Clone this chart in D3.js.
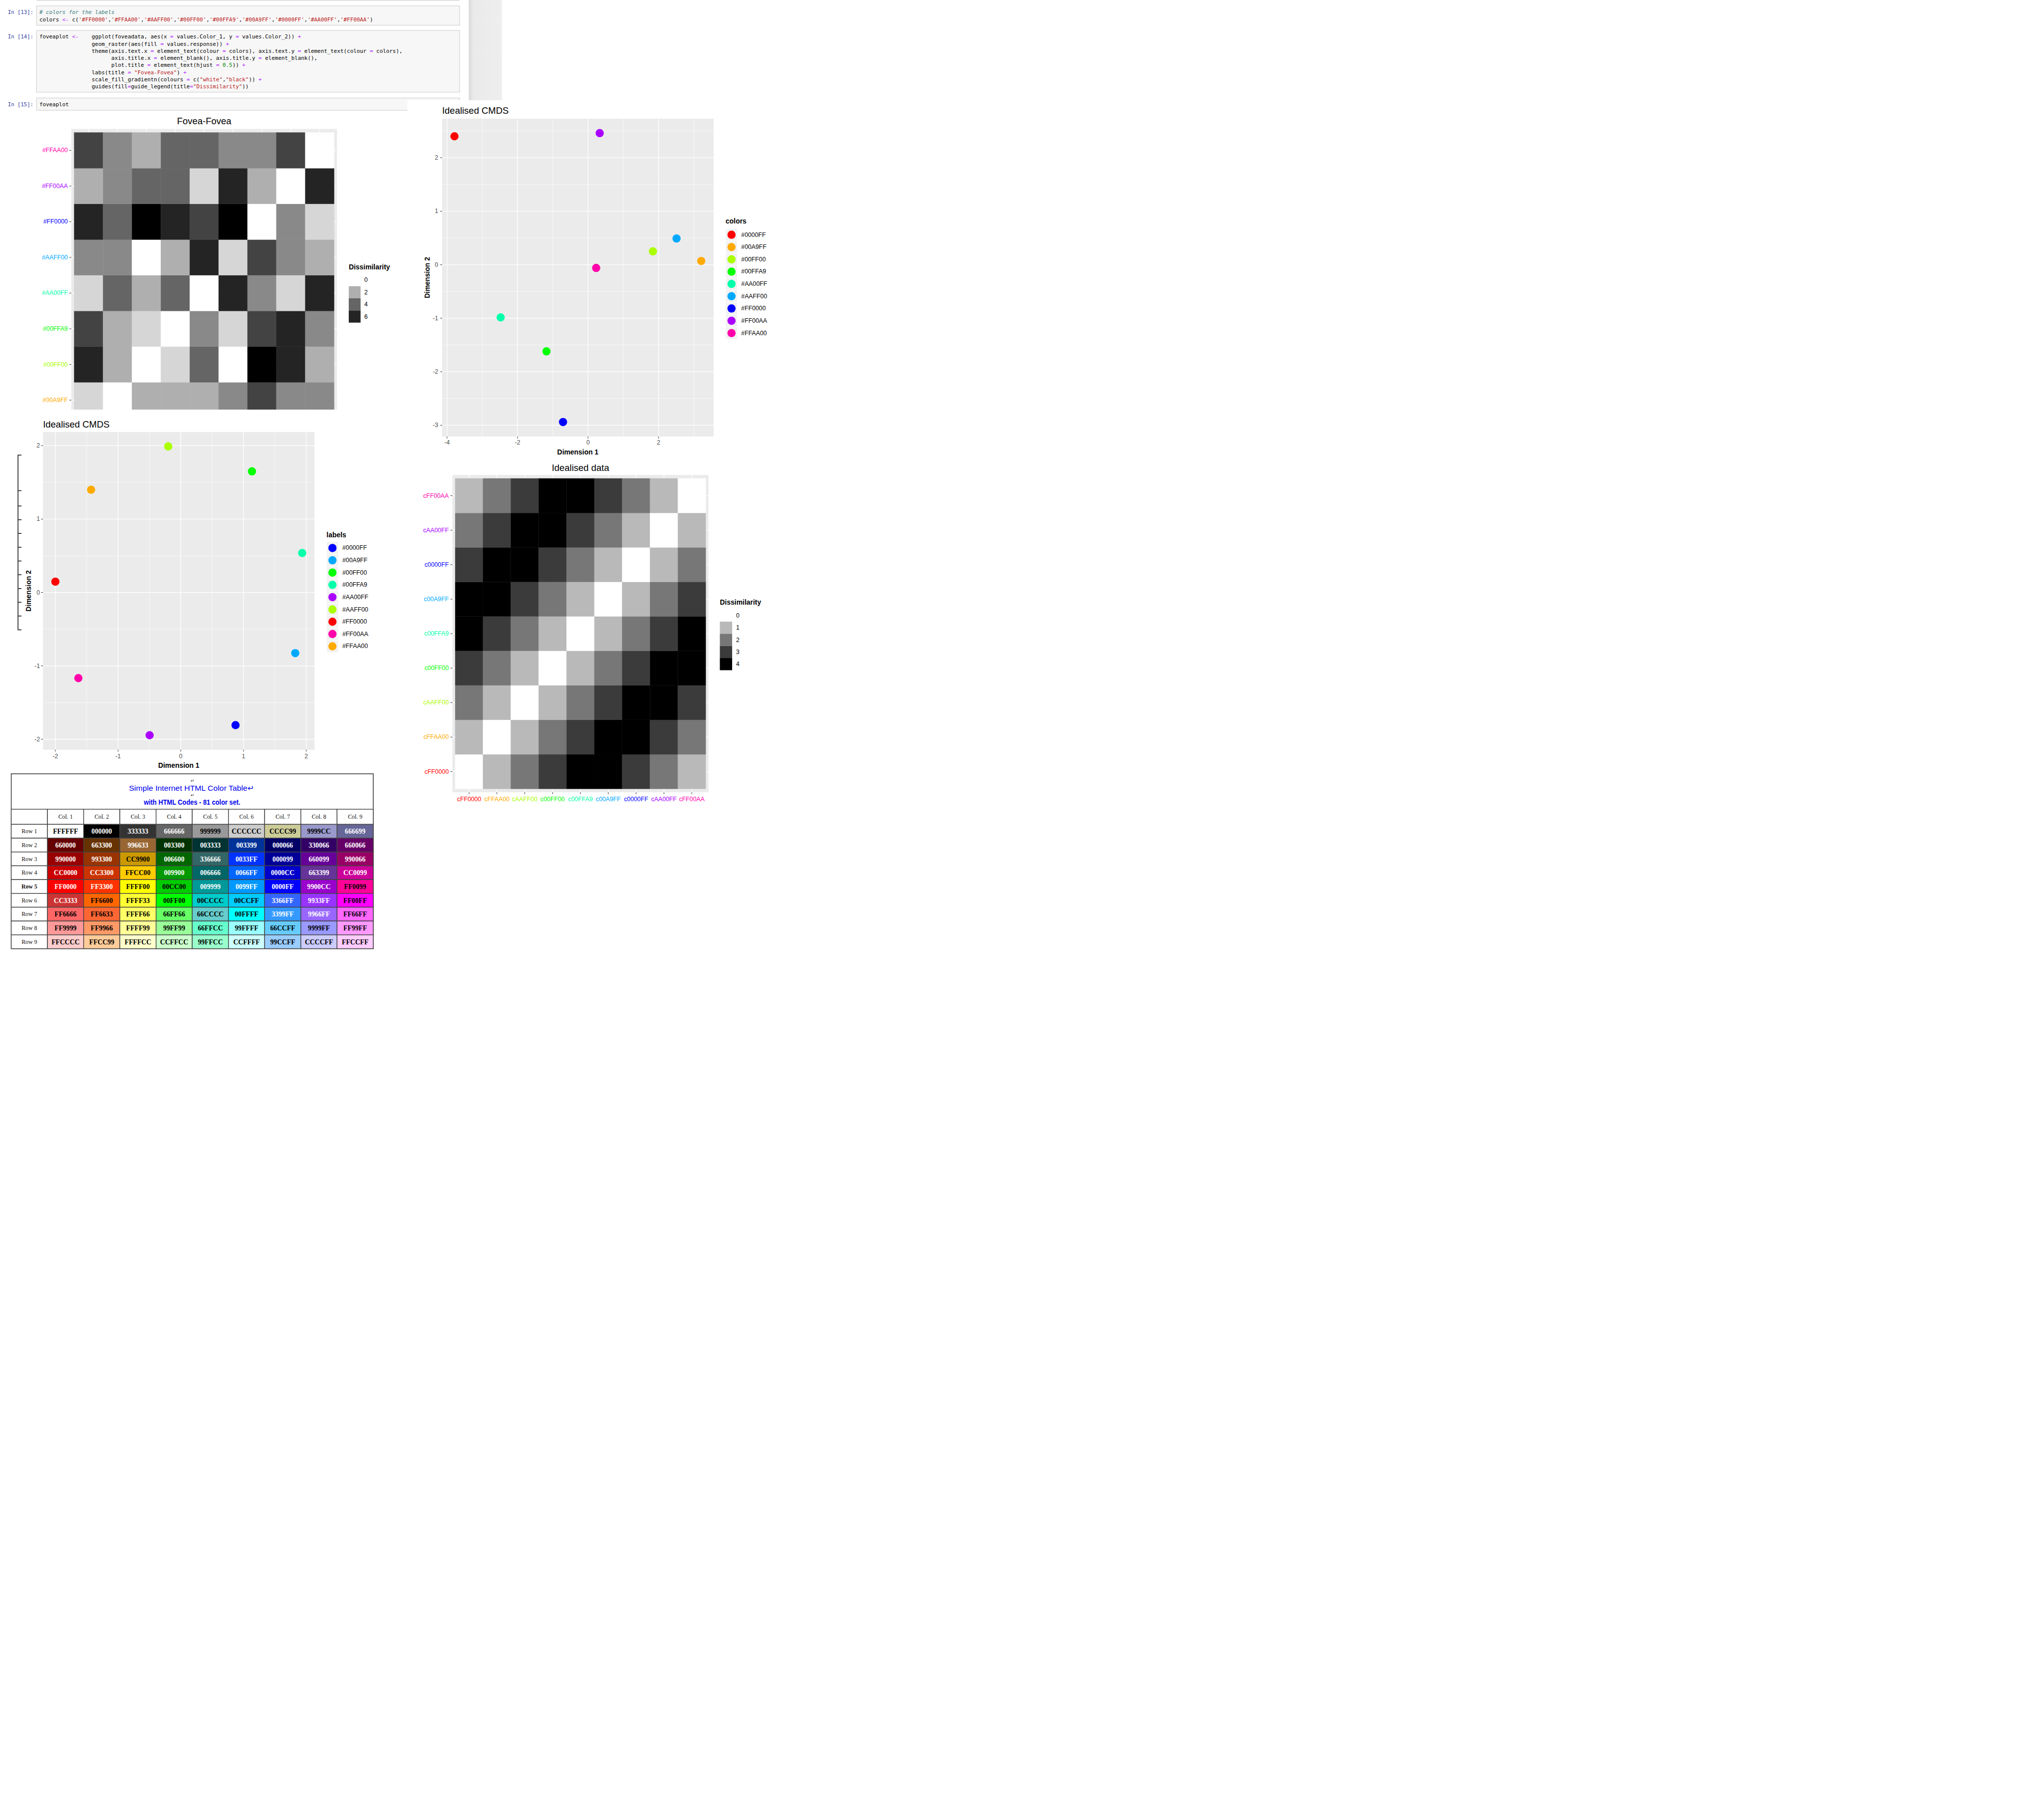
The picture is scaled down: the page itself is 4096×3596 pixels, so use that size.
<!DOCTYPE html>
<html><head><meta charset="utf-8">
<script src="https://cdnjs.cloudflare.com/ajax/libs/d3/7.8.5/d3.min.js"></script>
<style>html,body{margin:0;padding:0;background:#fff;}svg{display:block;}text{white-space:pre;}</style>
</head><body>
<script>
// ---------------- DATA ----------------
const colorVec = ['#FF0000','#FFAA00','#AAFF00','#00FF00','#00FFA9','#00A9FF','#0000FF','#AA00FF','#FF00AA'];
const sortedLabels = ['#0000FF','#00A9FF','#00FF00','#00FFA9','#AA00FF','#AAFF00','#FF0000','#FF00AA','#FFAA00'];

// Fovea-Fovea dissimilarities, rows bottom (#0000FF) -> top (#FFAA00), columns in sortedLabels order
const foveaValues = [
  [0,1,6,5,1,3,6,2,5],
  [1,0,2,2,2,3,5,3,3],
  [6,2,0,1,4,0,7,6,2],
  [5,2,1,0,3,1,5,6,3],
  [1,4,2,4,0,6,3,1,6],
  [3,3,0,2,6,1,5,3,2],
  [6,4,7,6,5,7,0,3,1],
  [2,3,4,4,1,6,2,0,6],
  [5,3,2,4,4,3,3,5,0]
];
const foveaLegendBreaks = [0,2,4,6];

// Idealised CMDS (top right), by sortedLabels
const cmdsA_x = [-3.79, 3.21, 1.84, -1.18, -2.48, 2.51, -0.71, 0.33, 0.23];
const cmdsA_y = [ 2.40, 0.07, 0.25, -1.62, -0.985, 0.49, -2.94, 2.46, -0.06];
// Idealised CMDS (bottom left), by sortedLabels
const cmdsB_x = [0.873, 1.825, 1.135, 1.936, -0.497, -0.20, -2.00, -1.633, -1.43];
const cmdsB_y = [-1.808, -0.827, 1.65, 0.538, -1.946, 1.99, 0.147, -1.167, 1.40];

// Idealised data, levels bottom->top / left->right
const idealLevels = ['cFF0000','cFFAA00','cAAFF00','c00FF00','c00FFA9','c00A9FF','c0000FF','cAA00FF','cFF00AA'];
const idealValues = [
  [0,1,2,3,4,4,3,2,1],
  [1,0,1,2,3,4,4,3,2],
  [2,1,0,1,2,3,4,4,3],
  [3,2,1,0,1,2,3,4,4],
  [4,3,2,1,0,1,2,3,4],
  [4,4,3,2,1,0,1,2,3],
  [3,4,4,3,2,1,0,1,2],
  [2,3,4,4,3,2,1,0,1],
  [1,2,3,4,4,3,2,1,0]
];
const idealLegendBreaks = [0,1,2,3,4];

// Colour table
const tableTitle1 = 'Simple Internet HTML Color Table\u21B5';
const tableTitle2 = 'with HTML Codes - 81 color set.';
const tableCols = ['Col. 1','Col. 2','Col. 3','Col. 4','Col. 5','Col. 6','Col. 7','Col. 8','Col. 9'];
const tableRows = ['Row 1','Row 2','Row 3','Row 4','Row 5','Row 6','Row 7','Row 8','Row 9'];
const tableCodes = [
 ['FFFFFF','000000','333333','666666','999999','CCCCCC','CCCC99','9999CC','666699'],
 ['660000','663300','996633','003300','003333','003399','000066','330066','660066'],
 ['990000','993300','CC9900','006600','336666','0033FF','000099','660099','990066'],
 ['CC0000','CC3300','FFCC00','009900','006666','0066FF','0000CC','663399','CC0099'],
 ['FF0000','FF3300','FFFF00','00CC00','009999','0099FF','0000FF','9900CC','FF0099'],
 ['CC3333','FF6600','FFFF33','00FF00','00CCCC','00CCFF','3366FF','9933FF','FF00FF'],
 ['FF6666','FF6633','FFFF66','66FF66','66CCCC','00FFFF','3399FF','9966FF','FF66FF'],
 ['FF9999','FF9966','FFFF99','99FF99','66FFCC','99FFFF','66CCFF','9999FF','FF99FF'],
 ['FFCCCC','FFCC99','FFFFCC','CCFFCC','99FFCC','CCFFFF','99CCFF','CCCCFF','FFCCFF']
];
const tableWhiteText = [
 [0,1,1,1,0,0,0,0,1],
 [1,1,1,1,1,1,1,1,1],
 [1,1,0,1,1,1,1,1,1],
 [1,1,0,1,1,1,1,1,1],
 [1,1,0,0,1,1,1,1,0],
 [1,0,0,0,0,0,1,1,0],
 [0,0,0,0,0,0,1,1,0],
 [0,0,0,0,0,0,0,0,0],
 [0,0,0,0,0,0,0,0,0]
];

// Notebook code cells
const prompts = ['In [13]:','In [14]:','In [15]:'];
const codeCell13 = [
 "# colors for the labels",
 "colors <- c('#FF0000','#FFAA00','#AAFF00','#00FF00','#00FFA9','#00A9FF','#0000FF','#AA00FF','#FF00AA')"
];
const codeCell14 = [
 "foveaplot <-    ggplot(foveadata, aes(x = values.Color_1, y = values.Color_2)) +",
 "                geom_raster(aes(fill = values.response)) +",
 "                theme(axis.text.x = element_text(colour = colors), axis.text.y = element_text(colour = colors),",
 "                      axis.title.x = element_blank(), axis.title.y = element_blank(),",
 "                      plot.title = element_text(hjust = 0.5)) +",
 "                labs(title = \"Fovea-Fovea\") +",
 "                scale_fill_gradientn(colours = c(\"white\",\"black\")) +",
 "                guides(fill=guide_legend(title=\"Dissimilarity\"))"
];
const codeCell15 = ["foveaplot"];

// ---------------- DRAWING ----------------
const W = 4324, H = 3796;
const SANS = "'Liberation Sans', Arial, sans-serif";
const MONO = "'DejaVu Sans Mono', 'Liberation Mono', monospace";
const SERIF = "'Liberation Serif', 'Times New Roman', serif";

const svg = d3.select('body').append('svg')
  .attr('width', 4096).attr('height', 3596)
  .attr('viewBox', `0 0 ${W} ${H}`);
svg.append('rect').attr('width', W).attr('height', H).attr('fill', '#fff');
const defs = svg.append('defs');

// ---- notebook ----
const sg = defs.append('linearGradient').attr('id', 'stripGrad');
sg.append('stop').attr('offset', '0%').attr('stop-color', '#D8D8D8');
sg.append('stop').attr('offset', '14%').attr('stop-color', '#EAEAEA');
sg.append('stop').attr('offset', '100%').attr('stop-color', '#EEEEEE');
const nb = svg.append('g');
nb.append('rect').attr('x', 991.7).attr('y', 0).attr('width', 70).attr('height', 212).attr('fill', 'url(#stripGrad)');
nb.append('line').attr('x1', 77.3).attr('x2', 972.3).attr('y1', 0.8).attr('y2', 0.8).attr('stroke', '#CFCFCF').attr('stroke-width', 1.5);

const CW = 6.92, CODE_X = 83.3, LINE_H = 15;
const cells = [
  {prompt: prompts[0], top: 12.3, bottom: 53.3, base: 30, lines: codeCell13},
  {prompt: prompts[1], top: 64.3, bottom: 195, base: 81.7, lines: codeCell14},
  {prompt: prompts[2], top: 207.3, bottom: 233.3, base: 225, lines: codeCell15}
];
const tokColors = {comment: '#408080', string: '#BA2121', op: '#AA22FF', num: '#008800', plain: '#000'};
function tokenize(line) {
  const re = /(#[^'"]*$)|('[^']*'|"[^"]*")|(<-|=|\+)|(\b\d+\.\d+\b|\b\d+\b)|([^'"#<=+\d]+|.)/g;
  const out = []; let m;
  while ((m = re.exec(line)) !== null) {
    const t = m[1] ? 'comment' : m[2] ? 'string' : m[3] ? 'op' : m[4] ? 'num' : 'plain';
    out.push({text: m[0], start: m.index, type: t});
  }
  return out;
}
cells.forEach(c => {
  nb.append('rect').attr('x', 77.3).attr('y', c.top).attr('width', 895).attr('height', c.bottom - c.top)
    .attr('fill', '#F7F7F7').attr('stroke', '#CFCFCF').attr('stroke-width', 1.2);
  nb.append('text').attr('x', 16.7).attr('y', c.base).text(c.prompt)
    .attr('font-family', MONO).attr('font-size', 11.5).attr('fill', '#303F9F')
    .attr('textLength', 54).attr('lengthAdjust', 'spacingAndGlyphs');
  c.lines.forEach((ln, li) => {
    tokenize(ln).forEach(tk => {
      if (tk.text.trim() === '') return;
      const lead = tk.text.length - tk.text.replace(/^\s+/, '').length;
      const txt = tk.text.trim();
      nb.append('text').attr('x', CODE_X + (tk.start + lead) * CW).attr('y', c.base + li * LINE_H)
        .text(txt).attr('font-family', MONO).attr('font-size', 11.5)
        .attr('fill', tokColors[tk.type]).attr('font-style', tk.type === 'comment' ? 'italic' : 'normal')
        .attr('textLength', txt.length * CW).attr('lengthAdjust', 'spacingAndGlyphs');
    });
  });
});

// ---- generic helpers ----
function txt(g, x, y, s, o) {
  const t = g.append('text').attr('x', x).attr('y', y).text(s)
    .attr('font-family', o.family || SANS).attr('font-size', o.size || 13)
    .attr('fill', o.fill || '#000');
  if (o.anchor) t.attr('text-anchor', o.anchor);
  if (o.central) t.attr('dominant-baseline', 'central');
  if (o.weight) t.attr('font-weight', o.weight);
  if (o.rotate) t.attr('transform', `rotate(${o.rotate},${x},${y})`);
  return t;
}

function drawHeatmap(g, cfg) {
  const {levels, values, panel, labelColors, domainMax, legendBreaks} = cfg;
  const fill = d3.scaleLinear().domain([0, domainMax]).range(['white', 'black']).interpolate(d3.interpolateLab);
  const x = d3.scaleBand().domain(levels).range([panel.x0, panel.x1]).paddingInner(0).paddingOuter(0.1);
  const y = d3.scaleBand().domain(levels.slice().reverse()).range([panel.y0, panel.y1]).paddingInner(0).paddingOuter(0.1);
  const bw = x.bandwidth(), bh = y.bandwidth();
  g.append('rect').attr('x', panel.x0).attr('y', panel.y0).attr('width', panel.x1 - panel.x0).attr('height', panel.y1 - panel.y0).attr('fill', '#EBEBEB');
  levels.forEach(l => {
    g.append('line').attr('x1', x(l) + bw / 2).attr('x2', x(l) + bw / 2).attr('y1', panel.y0).attr('y2', panel.y1).attr('stroke', '#fff').attr('stroke-width', 1.4);
    g.append('line').attr('y1', y(l) + bh / 2).attr('y2', y(l) + bh / 2).attr('x1', panel.x0).attr('x2', panel.x1).attr('stroke', '#fff').attr('stroke-width', 1.4);
  });
  values.forEach((row, i) => row.forEach((v, j) => {
    g.append('rect').attr('x', x(levels[j])).attr('y', y(levels[i])).attr('width', bw).attr('height', bh)
      .attr('fill', fill(v)).attr('stroke', fill(v)).attr('stroke-width', 0.4);
  }));
  levels.forEach((l, i) => {
    const cy = y(l) + bh / 2;
    g.append('line').attr('x1', panel.x0 - 4).attr('x2', panel.x0).attr('y1', cy).attr('y2', cy).attr('stroke', '#333').attr('stroke-width', 1.1);
    txt(g, cfg.ylabX, cy, l, {anchor: 'end', central: true, fill: labelColors[i], size: 13});
  });
  if (cfg.xlabY) {
    levels.forEach((l, i) => {
      const cx = x(l) + bw / 2;
      g.append('line').attr('x1', cx).attr('x2', cx).attr('y1', panel.y1).attr('y2', panel.y1 + 4).attr('stroke', '#333').attr('stroke-width', 1.1);
      txt(g, cx, cfg.xlabY, l, {anchor: 'middle', central: true, fill: labelColors[i], size: 13});
    });
  }
  txt(g, (panel.x0 + panel.x1) / 2, cfg.titleBase, cfg.title, {anchor: 'middle', size: 19.5});
  const L = cfg.legend;
  txt(g, L.x, L.titleY, 'Dissimilarity', {central: true, size: 14.7, weight: 'bold'});
  legendBreaks.forEach((b, k) => {
    const ty = L.keyTop + k * L.keyH;
    g.append('rect').attr('x', L.x).attr('y', ty).attr('width', L.keyW).attr('height', L.keyH).attr('fill', fill(b));
    txt(g, L.textX, ty + L.keyH / 2, String(b), {central: true, size: 13});
  });
}

function drawScatter(g, cfg) {
  const {xs, ys, panel, colorScale} = cfg;
  const ext = (a) => { const [lo, hi] = d3.extent(a); const e = (hi - lo) * 0.05; return [lo - e, hi + e]; };
  const x = d3.scaleLinear().domain(ext(xs)).range([panel.x0, panel.x1]);
  const y = d3.scaleLinear().domain(ext(ys)).range([panel.y1, panel.y0]);
  const xt = x.ticks(5), yt = y.ticks(5);
  const minor = (t, sc) => {
    const step = t[1] - t[0]; const out = [];
    for (let v = t[0] - step / 2; v <= t[t.length - 1] + step / 2 + 1e-9; v += step) {
      const [a, b] = sc.domain(); if (v >= a && v <= b) out.push(v);
    }
    return out;
  };
  g.append('rect').attr('x', panel.x0).attr('y', panel.y0).attr('width', panel.x1 - panel.x0).attr('height', panel.y1 - panel.y0).attr('fill', '#EBEBEB');
  minor(xt, x).forEach(v => g.append('line').attr('x1', x(v)).attr('x2', x(v)).attr('y1', panel.y0).attr('y2', panel.y1).attr('stroke', '#fff').attr('stroke-width', 0.7));
  minor(yt, y).forEach(v => g.append('line').attr('y1', y(v)).attr('y2', y(v)).attr('x1', panel.x0).attr('x2', panel.x1).attr('stroke', '#fff').attr('stroke-width', 0.7));
  xt.forEach(v => {
    g.append('line').attr('x1', x(v)).attr('x2', x(v)).attr('y1', panel.y0).attr('y2', panel.y1).attr('stroke', '#fff').attr('stroke-width', 1.4);
    g.append('line').attr('x1', x(v)).attr('x2', x(v)).attr('y1', panel.y1).attr('y2', panel.y1 + 4).attr('stroke', '#333').attr('stroke-width', 1.1);
    txt(g, x(v), cfg.xlabY, String(v), {anchor: 'middle', central: true, fill: '#4D4D4D', size: 13});
  });
  yt.forEach(v => {
    g.append('line').attr('y1', y(v)).attr('y2', y(v)).attr('x1', panel.x0).attr('x2', panel.x1).attr('stroke', '#fff').attr('stroke-width', 1.4);
    g.append('line').attr('y1', y(v)).attr('y2', y(v)).attr('x1', panel.x0 - 4).attr('x2', panel.x0).attr('stroke', '#333').attr('stroke-width', 1.1);
    txt(g, cfg.ylabX, y(v), String(v), {anchor: 'end', central: true, fill: '#4D4D4D', size: 13});
  });
  sortedLabels.forEach((l, i) => {
    g.append('circle').attr('cx', x(xs[i])).attr('cy', y(ys[i])).attr('r', 8.7).attr('fill', colorScale(l));
  });
  txt(g, cfg.title.x, cfg.title.y, 'Idealised CMDS', {size: 19.5});
  txt(g, (panel.x0 + panel.x1) / 2, cfg.xTitleY, 'Dimension 1', {anchor: 'middle', central: true, size: 14.7, weight: 'bold'});
  txt(g, cfg.yTitleX, (panel.y0 + panel.y1) / 2, 'Dimension 2', {anchor: 'middle', central: true, size: 14.7, weight: 'bold', rotate: -90});
  const L = cfg.legend;
  txt(g, L.x, L.titleY, L.title, {central: true, size: 14.7, weight: 'bold'});
  sortedLabels.forEach((l, k) => {
    const ty = L.keyTop + k * 26;
    g.append('rect').attr('x', L.x).attr('y', ty).attr('width', 25).attr('height', 26).attr('fill', '#F2F2F2').attr('stroke', '#fff').attr('stroke-width', 1);
    g.append('circle').attr('cx', L.x + 12.5).attr('cy', ty + 13).attr('r', 8.7).attr('fill', colorScale(l));
    txt(g, L.textX, ty + 13, l, {central: true, size: 13});
  });
}

// ---- Fovea-Fovea (clipped) ----
defs.append('clipPath').attr('id', 'fovClip').append('rect').attr('x', 0).attr('y', 0).attr('width', 860).attr('height', 866.7);
const gF = svg.append('g').attr('clip-path', 'url(#fovClip)');
drawHeatmap(gF, {
  levels: sortedLabels, values: foveaValues, labelColors: colorVec, domainMax: 7, legendBreaks: foveaLegendBreaks,
  panel: {x0: 150.8, x1: 713, y0: 272.8, y1: 967.4},
  ylabX: 143.5, xlabY: 982, title: 'Fovea-Fovea', titleBase: 262.7,
  legend: {x: 737.8, titleY: 564.7, keyTop: 579.8, keyW: 25, keyH: 25.7, textX: 770.7}
});

// ---- Idealised CMDS (top right) ----
const gA = svg.append('g');
gA.append('rect').attr('x', 862).attr('y', 212).attr('width', 840).attr('height', 751).attr('fill', '#fff');
drawScatter(gA, {
  xs: cmdsA_x, ys: cmdsA_y, colorScale: d3.scaleOrdinal().domain(sortedLabels).range(colorVec),
  panel: {x0: 935.3, x1: 1509.5, y0: 251, y1: 923.5},
  title: {x: 935.3, y: 241}, xlabY: 936.7, ylabX: 927, xTitleY: 956.4, yTitleX: 903.4,
  legend: {title: 'colors', x: 1535, titleY: 468, keyTop: 483.7, textX: 1568}
});

// ---- Idealised data ----
const gD = svg.append('g');
gD.append('rect').attr('x', 860).attr('y', 963).attr('width', 842).attr('height', 760).attr('fill', '#fff');
drawHeatmap(gD, {
  levels: idealLevels, values: idealValues, labelColors: colorVec, domainMax: 4, legendBreaks: idealLegendBreaks,
  panel: {x0: 957, x1: 1498.8, y0: 1005, y1: 1676.4},
  ylabX: 949.3, xlabY: 1691, title: 'Idealised data', titleBase: 996.4,
  legend: {x: 1522.8, titleY: 1274, keyTop: 1289.6, keyW: 26, keyH: 25.7, textX: 1557}
});

// ---- Idealised CMDS (bottom left) ----
const gB = svg.append('g');
gB.append('rect').attr('x', 0).attr('y', 866.7).attr('width', 858).attr('height', 770).attr('fill', '#fff');
drawScatter(gB, {
  xs: cmdsB_x, ys: cmdsB_y, colorScale: d3.scaleOrdinal().domain(sortedLabels).range(sortedLabels),
  panel: {x0: 91, x1: 665.4, y0: 914, y1: 1586.3},
  title: {x: 91, y: 904.3}, xlabY: 1600.3, ylabX: 84.5, xTitleY: 1619.7, yTitleX: 59.8,
  legend: {title: 'labels', x: 690.8, titleY: 1131.2, keyTop: 1146.5, textX: 724.2}
});
// stray bracket at the left of the bottom CMDS
{
  const bx = 38.1, tx = 45.5, top = 963, bot = 1332.6;
  const tickY = [1038.1].concat(d3.range(10).map(k => 1070.5 + k * (bot - 1070.5) / 9));
  let p = `M${tx},${top}H${bx}V${bot}H${tx}`;
  tickY.forEach(v => { p += `M${bx},${v}H${tx}`; });
  gB.append('path').attr('d', p).attr('fill', 'none').attr('stroke', '#111').attr('stroke-width', 1.6);
}

// ---- Colour table ----
const gT = svg.append('g');
const tx0 = 23.8, tx1 = 789.6, tTop = 1637.3, tHead = 1712.3, tRow0 = 1744.3, tBot = 2007.3;
const colBand = d3.scaleBand().domain([''].concat(tableCols)).range([tx0, tx1]);
const rowBand = d3.scaleBand().domain(tableRows).range([tRow0, tBot]);
gT.append('rect').attr('x', tx0).attr('y', tTop).attr('width', tx1 - tx0).attr('height', tBot - tTop).attr('fill', '#fff').attr('stroke', '#333').attr('stroke-width', 1.6);
txt(gT, 407, 1652, '\u21B5', {anchor: 'middle', central: true, size: 9, fill: '#333'});
txt(gT, 407, 1682.5, '\u21B5', {anchor: 'middle', central: true, size: 9, fill: '#333'});
txt(gT, 272.8, 1667.5, tableTitle1, {central: true, size: 16, fill: '#0000EE'}).attr('textLength', 265).attr('lengthAdjust', 'spacingAndGlyphs');
txt(gT, 406.4, 1697, tableTitle2, {anchor: 'middle', central: true, size: 15, fill: '#0000EE', weight: 'bold'}).attr('textLength', 204).attr('lengthAdjust', 'spacingAndGlyphs');
// header
[''].concat(tableCols).forEach(c => {
  gT.append('rect').attr('x', colBand(c)).attr('y', tHead).attr('width', colBand.bandwidth()).attr('height', tRow0 - tHead)
    .attr('fill', '#fff').attr('stroke', '#444').attr('stroke-width', 1.5);
  if (c) txt(gT, colBand(c) + colBand.bandwidth() / 2, (tHead + tRow0) / 2, c, {anchor: 'middle', central: true, size: 12.5, family: SERIF, fill: '#111'});
});
tableRows.forEach((r, i) => {
  const ry = rowBand(r), rh = rowBand.bandwidth();
  gT.append('rect').attr('x', colBand('')).attr('y', ry).attr('width', colBand.bandwidth()).attr('height', rh)
    .attr('fill', '#fff').attr('stroke', '#444').attr('stroke-width', 1.5);
  txt(gT, colBand('') + colBand.bandwidth() / 2, ry + rh / 2, r, {anchor: 'middle', central: true, size: 12.5, family: SERIF, fill: '#111', weight: i === 4 ? 'bold' : 'normal'});
  tableCols.forEach((c, j) => {
    const code = tableCodes[i][j];
    gT.append('rect').attr('x', colBand(c)).attr('y', ry).attr('width', colBand.bandwidth()).attr('height', rh)
      .attr('fill', '#' + code).attr('stroke', '#444').attr('stroke-width', 1.5);
    txt(gT, colBand(c) + colBand.bandwidth() / 2, ry + rh / 2 + 0.5, code, {anchor: 'middle', central: true, size: 14.5, family: SERIF, weight: 'bold', fill: tableWhiteText[i][j] ? '#fff' : '#000'});
  });
});
</script>
</body></html>
